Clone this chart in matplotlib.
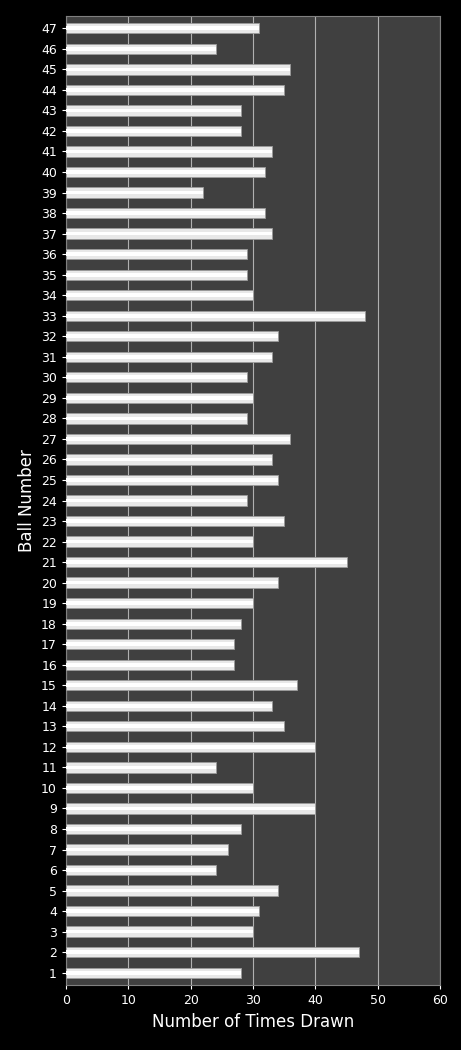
import matplotlib.pyplot as plt

balls = list(range(1, 48))
counts = [28, 47, 30, 31, 34, 24, 26, 28, 40, 30,
          24, 40, 35, 33, 37, 27, 27, 28, 30, 34,
          45, 30, 35, 29, 34, 33, 36, 29, 30, 29,
          33, 34, 48, 30, 29, 29, 33, 32, 22, 32,
          33, 28, 28, 35, 36, 24, 31]

fig = plt.figure(figsize=(4.61, 10.5), dpi=100, facecolor='black')
ax = fig.add_axes([66/461, 65/1050, 374/461, 969/1050])
ax.set_facecolor('#404040')

ax.barh(balls, counts, height=0.5, color='#e8e8e8', edgecolor='#9a9a9a', linewidth=0.6, zorder=3)
# light highlight stripe to mimic the bevelled bars
ax.barh(balls, counts, height=0.18, color='white', linewidth=0, zorder=4)

ax.set_xlim(0, 60)
ax.set_ylim(0.4, 47.6)
ax.set_xticks(range(0, 61, 10))
ax.set_yticks(balls)
ax.grid(axis='x', color='#b0b0b0', linewidth=0.8, zorder=0)
ax.tick_params(colors='white', labelsize=9, length=3)
for s in ax.spines.values():
    s.set_color('#808080')

ax.set_xlabel('Number of Times Drawn', color='white', fontsize=12)
ax.set_ylabel('Ball Number', color='white', fontsize=12)

fig.savefig('out.png', facecolor='black')
